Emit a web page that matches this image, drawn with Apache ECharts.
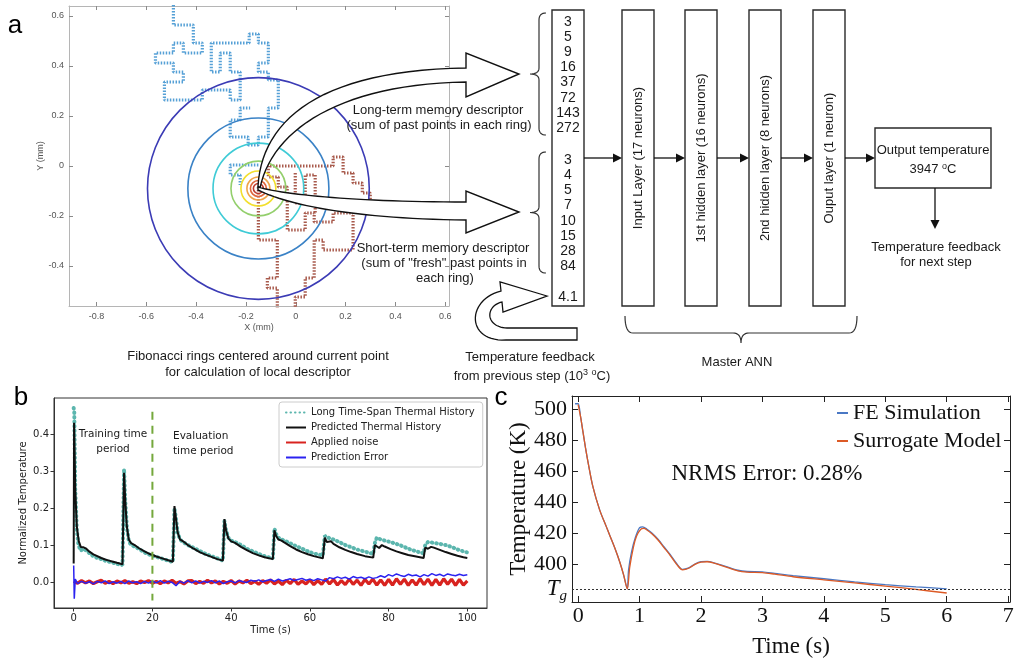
<!DOCTYPE html>
<html><head><meta charset="utf-8">
<script src="https://cdn.jsdelivr.net/npm/echarts@6/dist/echarts.min.js"></script>
<style>html,body{margin:0;padding:0;background:#fff}#c{width:1018px;height:659px}</style>
</head><body><div id="c"></div>
<script>
// ================= DATA =================
// Panel a: Fibonacci rings (mm)
const ringCenter = [-0.15, -0.09];
const ringRadii = [0.445, 0.283, 0.182, 0.11, 0.07, 0.046, 0.032, 0.02];
// Panel a: scan path, older points (mm)
const oldPath1 = [[-0.491,0.68],[-0.491,0.564],[-0.411,0.564],[-0.411,0.492],[-0.375,0.492],[-0.375,0.452],[-0.451,0.452],[-0.451,0.492],[-0.491,0.492],[-0.491,0.452],[-0.563,0.452],[-0.563,0.412],[-0.491,0.412],[-0.491,0.376],[-0.451,0.376],[-0.451,0.336],[-0.527,0.336],[-0.527,0.264],[-0.375,0.264],[-0.375,0.304],[-0.263,0.304],[-0.263,0.264],[-0.223,0.264],[-0.223,0.376],[-0.263,0.376],[-0.263,0.452],[-0.303,0.452],[-0.303,0.376],[-0.339,0.376],[-0.339,0.492],[-0.187,0.492],[-0.187,0.528],[-0.150,0.528],[-0.150,0.492],[-0.110,0.492],[-0.110,0.412],[-0.150,0.412],[-0.150,0.376],[-0.110,0.376],[-0.110,0.344],[-0.070,0.344],[-0.070,0.232],[-0.110,0.232],[-0.110,0.116],[-0.150,0.116],[-0.150,0.084],[-0.191,0.084],[-0.191,0.116],[-0.263,0.116],[-0.263,0.184],[-0.223,0.184],[-0.223,0.232],[-0.183,0.232]];
const oldPath2 = [[-0.150,0.004],[-0.263,0.004],[-0.263,-0.036],[-0.223,-0.036],[-0.223,-0.076]];
// Panel a: scan path, fresh points (mm)
const freshPath1 = [[-0.150,-0.084],[-0.150,-0.296],[-0.074,-0.296],[-0.074,-0.448],[-0.114,-0.448],[-0.114,-0.488],[-0.074,-0.488],[-0.074,-0.576],[-0.002,-0.576],[-0.002,-0.524],[0.038,-0.524],[0.038,-0.448],[0.074,-0.448],[0.074,-0.296],[0.110,-0.296],[0.110,-0.336],[0.230,-0.336],[0.230,-0.188],[0.150,-0.188],[0.150,-0.224],[0.074,-0.224],[0.074,-0.188],[0.038,-0.188],[0.038,-0.256],[-0.034,-0.256],[-0.034,-0.084],[-0.070,-0.084],[-0.070,-0.044],[-0.110,-0.044],[-0.110,0.0],[0.150,0.0],[0.150,0.036],[0.190,0.036],[0.190,-0.028],[0.230,-0.028],[0.230,-0.068],[0.267,-0.068],[0.267,-0.108],[0.299,-0.108],[0.299,-0.148],[0.267,-0.148]];
const freshPath2 = [[-0.002,-0.028],[-0.002,-0.148],[0.038,-0.148],[0.038,-0.036],[0.078,-0.036],[0.078,-0.188]];
const aXTicks = [-0.8,-0.6,-0.4,-0.2,0,0.2,0.4,0.6];
const aYTicks = [-0.4,-0.2,0,0.2,0.4,0.6];

// Panel a: descriptor diagram
const longTerm = [3,5,9,16,37,72,143,272];
const shortTerm = [3,4,5,7,10,15,28,84];
const feedbackValue = '4.1';
const layerNames = ['Input Layer (17 neurons)','1st hidden layer (16 neurons)','2nd hidden layer (8 neurons)','Ouput layer (1 neuron)'];
const outputTemp = 3947;

// Panel b: thermal history
const tealT = [0,0.15,0.4,0.8,1.2,1.8,2.5,3.2,4,5,6,7,8,9,10,11,12.4, 12.8,13.1,13.5,14,14.6,15.5,16.5,18,19.5,21,22.5,24,25.2, 25.6,26,26.4,27,27.8,29,30.5,32,33.5,35,36.5,37.9, 38.3,38.7,39.3,40,41,42.5,44,45.5,47,48.5,50.6, 51,51.4,52,52.8,53.5,55,56.5,58,59.5,61,63.3, 63.8,64.3,65,66,67.5,69,70.5,72,74,76.1, 76.5,77,78,79,80.5,82,83.5,85,87,88.9, 89.3,90,91.5,93,94.5,96,97.5,99,100];
const tealV = [0.47,0.46,0.25,0.14,0.1,0.085,0.09,0.085,0.078,0.07,0.065,0.062,0.058,0.055,0.052,0.049,0.046,
 0.305,0.22,0.15,0.11,0.1,0.096,0.09,0.08,0.073,0.068,0.063,0.058,0.054,
 0.2,0.17,0.135,0.115,0.108,0.1,0.092,0.084,0.076,0.07,0.064,0.058,
 0.165,0.14,0.12,0.112,0.108,0.1,0.09,0.083,0.076,0.07,0.064,
 0.145,0.13,0.12,0.115,0.112,0.105,0.097,0.09,0.083,0.077,0.072,
 0.125,0.12,0.118,0.115,0.108,0.1,0.094,0.088,0.082,0.076,
 0.105,0.12,0.115,0.112,0.108,0.103,0.097,0.09,0.083,0.077,
 0.1,0.108,0.106,0.103,0.1,0.095,0.088,0.083,0.08];
const predT = [0,0.1,0.4,0.8,1.3,1.8,2.5,3.2,4,5,6,7,8,9,10,11,12.4, 12.8,13.1,13.5,14,14.6,15.5,16.5,18,19.5,21,22.5,24,25.2, 25.6,26,26.4,27,27.8,29,30.5,32,33.5,35,36.5,37.9, 38.3,38.7,39.3,40,41,42.5,44,45.5,47,48.5,50.6, 51,51.4,52,52.8,53.5,55,56.5,58,59.5,61,63.3, 63.8,64.3,64.8,65.4,66,67.5,69,70.5,72,74,76.1, 76.5,77,77.6,78.3,79,80.5,82,83.5,85,87,88.9, 89.3,90,90.8,91.5,93,94.5,96,97.5,99,100];
const predV = [0.05,0.43,0.25,0.15,0.11,0.095,0.094,0.09,0.082,0.075,0.07,0.065,0.061,0.058,0.055,0.052,0.048,
 0.295,0.22,0.15,0.115,0.105,0.1,0.092,0.083,0.075,0.069,0.064,0.059,0.055,
 0.205,0.17,0.135,0.115,0.11,0.1,0.09,0.081,0.074,0.068,0.062,0.058,
 0.17,0.14,0.118,0.11,0.106,0.095,0.086,0.078,0.072,0.067,0.062,
 0.14,0.125,0.115,0.112,0.107,0.097,0.088,0.081,0.075,0.07,0.064,
 0.12,0.108,0.105,0.11,0.103,0.094,0.087,0.081,0.076,0.07,0.066,
 0.1,0.095,0.092,0.1,0.096,0.089,0.083,0.078,0.073,0.069,0.065,
 0.093,0.09,0.095,0.093,0.087,0.081,0.076,0.071,0.067,0.065];
// applied noise, one sample per second (t = 0..100)
const noiseV = [0.002,-0.003,0.004,-0.002,0.003,-0.004,0.001,0.005,-0.003,0.002,
 -0.004,0.003,-0.002,0.004,-0.003,0.001,-0.004,0.003,-0.001,0.004,
 -0.003,0.002,-0.004,0.003,-0.002,0.005,-0.003,0.001,-0.005,0.003,
 0.004,-0.004,0.002,-0.003,0.005,-0.002,0.003,-0.005,0.002,-0.003,
 0.004,-0.005,0.003,-0.002,0.005,-0.004,0.002,-0.006,0.004,-0.003,
 0.006,-0.005,0.003,-0.007,0.005,-0.004,0.007,-0.006,0.003,-0.005,
 0.006,-0.007,0.004,-0.006,0.008,-0.005,0.007,-0.008,0.004,-0.007,
 0.008,-0.006,0.005,-0.009,0.007,-0.005,0.008,-0.008,0.006,-0.009,
 0.007,-0.008,0.009,-0.006,0.008,-0.009,0.006,-0.008,0.009,-0.007,
 0.008,-0.009,0.007,-0.008,0.009,-0.006,0.008,-0.009,0.007,-0.008,0.003];
// prediction error: initial spike, then one sample per second (t = 1..100)
const errSpikeT = [0,0.15,0.4];
const errSpikeV = [0.045,-0.045,0.008];
const errV = [-0.004,0.002,-0.003,0.001,-0.005,0.002,-0.002,0.003,-0.004,0.001,
 -0.003,0.002,-0.004,0.003,-0.002,0.001,-0.004,0.002,-0.003,0.003,
 -0.002,0.004,-0.003,0.002,-0.001,-0.01,0.002,-0.003,0.004,-0.002,
 0.003,-0.003,0.002,-0.001,0.004,-0.002,0.003,-0.004,0.001,0.003,
 -0.002,0.004,0.001,-0.001,0.005,0.002,0.006,0.001,0.004,0.007,
 0.002,0.008,0.003,0.006,0.009,0.004,0.007,0.01,0.005,0.008,
 0.004,0.009,0.006,0.003,0.012,0.009,0.014,0.01,0.013,0.008,
 0.015,0.011,0.013,0.009,0.014,0.01,0.012,0.017,0.013,0.02,
 0.016,0.022,0.018,0.015,0.021,0.017,0.019,0.014,0.02,0.016,
 0.023,0.018,0.021,0.016,0.022,0.019,0.017,0.021,0.018,0.02];
const trainEnd = 20;
const splitLineRange = [-0.05, 0.46];
const bXTicks = [0,20,40,60,80,100];
const bYTicks = [0,0.1,0.2,0.3,0.4];

// Panel c: FE vs surrogate
const feT = [-0.05,0,0.04,0.08,0.12,0.16,0.24,0.35,0.46,0.52,0.6,0.68,0.74,0.8, 0.82,0.87,0.93,1.0,1.05,1.12,1.2,1.3,1.4,1.5,1.6,1.7,1.8,1.9,2.0,2.1,2.2,2.4,2.6,2.75,3.0,3.2,3.5,4,4.5,5,5.5,6];
const feV = [503.5,503.5,495,485,475,466,450,435,424,418,410,401,393,384, 396,408,417,423.5,424,422.5,420,416,411,406,400.5,396.5,397.5,400,401.5,401.7,401,398.5,396,395.2,395,394,392.5,390.5,388.5,386.7,385.3,384];
const srT = [0,0.04,0.08,0.12,0.16,0.24,0.35,0.46,0.52,0.6,0.68,0.74,0.8, 0.84,0.9,0.95,1.02,1.07,1.12,1.2,1.3,1.4,1.5,1.6,1.7,1.8,1.9,2.0,2.1,2.2,2.4,2.6,2.75,3.0,3.2,3.5,4,4.5,5,5.5,6];
const srV = [503,495,485,475,466,450,435,424,418,410,401,393,384, 398,411,418,422.5,423,422,419.5,415.5,410.5,405.5,400,396.3,397.3,399.8,401.3,401.5,400.8,398.2,395.6,394.8,394.5,393.5,391.8,389.8,387.8,385.8,383.6,381.3];
const Tg = 384;
const cXTicks = [0,1,2,3,4,5,6,7];
const cYTicks = [400,420,440,460,480,500];
const nrmsText = 'NRMS Error: 0.28%';

// ================= STYLE / LAYOUT =================
const SANS = '"Liberation Sans", Arial, sans-serif';
const SERIF = '"Liberation Serif", "Times New Roman", serif';
const MPL = '"DejaVu Sans", sans-serif';
const ringColors = ['#3b3bb5','#3a82c6','#3fcbd6','#93cf6c','#f2df2c','#f0a448','#e0663c','#bf3a2e'];

const zip = (a, b) => a.map((v, i) => [v, b[i]]);
const idx = (arr, start) => arr.map((v, i) => [start + i, v]);

function bez(p0,p1,p2,p3,n){ n=n||28; const pts=[]; for(let i=0;i<=n;i++){const t=i/n,u=1-t;
  pts.push([u*u*u*p0[0]+3*u*u*t*p1[0]+3*u*t*t*p2[0]+t*t*t*p3[0], u*u*u*p0[1]+3*u*u*t*p1[1]+3*u*t*t*p2[1]+t*t*t*p3[1]]);} return pts; }
function qd(p0,p1,p2,n){ n=n||8; const pts=[]; for(let i=0;i<=n;i++){const t=i/n,u=1-t;
  pts.push([u*u*p0[0]+2*u*t*p1[0]+t*t*p2[0], u*u*p0[1]+2*u*t*p1[1]+t*t*p2[1]]);} return pts; }

const G = [];
function txt(x,y,text,st,rot){ G.push({type:'text', x:x, y:y, rotation:rot||0, z:120,
  style:Object.assign({text:text, fontFamily:SANS, fontSize:13, fill:'#1a1a1a', align:'center', verticalAlign:'middle'}, st||{})}); }
function box(x,y,w,h){ G.push({type:'rect', z:105, shape:{x:x,y:y,width:w,height:h}, style:{fill:'#fff', stroke:'#2a2a2a', lineWidth:1.4}}); }
function arrowR(x1,x2,y){ G.push({type:'line', z:106, shape:{x1:x1,y1:y,x2:x2-7,y2:y}, style:{stroke:'#111', lineWidth:1.3}});
  G.push({type:'polygon', z:106, shape:{points:[[x2,y],[x2-9,y-4.5],[x2-9,y+4.5]]}, style:{fill:'#111'}}); }
function poly(points, fill, lw){ G.push({type:'polygon', z:100, shape:{points:points}, style:{fill:fill, stroke:'#111', lineWidth:lw||1.3}}); }
function pline(points){ G.push({type:'polyline', z:106, shape:{points:points}, style:{fill:null, stroke:'#333', lineWidth:1.2}}); }
function vbrace(x, y1, y2, tipX){ const ym=(y1+y2)/2;
  pline([].concat(qd([x+7,y1],[x,y1],[x,y1+7]), [[x,ym-6]], qd([x,ym-6],[x,ym],[tipX,ym]), qd([tipX,ym],[x,ym],[x,ym+6]), [[x,y2-7]], qd([x,y2-7],[x,y2],[x+7,y2]))); }

// hollow arrows from current point
poly([].concat(bez([258,186],[262,120],[320,70],[466,68]), [[466,53],[519,74],[466,97]], bez([260,188],[272,130],[340,84],[466,82]).reverse()), '#fff', 1.4);
poly([].concat(bez([258,187],[285,195],[360,202],[466,202]), [[466,191],[519,212],[466,233]], bez([258,190],[290,206],[360,219],[466,220]).reverse()), '#fff', 1.4);
// U-turn feedback arrow
poly([].concat([[547,296],[500,282],[501,291]], bez([501,291],[466,300],[466,342],[506,340]), [[577,340],[577,328],[507,328]], bez([507,328],[485,327],[485,306],[502,302]), [[503,312]]), '#fff', 1.3);

// descriptor texts
txt(438,110,'Long-term memory descriptor');
txt(439,125,'(sum of past points in each ring)');
txt(443,248,'Short-term memory descriptor');
txt(444,263,'(sum of "fresh" past points in');
txt(445,278,'each ring)');
// braces
vbrace(539,13,135,530);
vbrace(539,152,273,530);
// input vector box
box(552,10,32,296);
longTerm.forEach((v,i)=>txt(568,21.7+15.2*i,String(v),{fontSize:14}));
shortTerm.forEach((v,i)=>txt(568,160+15.2*i,String(v),{fontSize:14}));
txt(568,297,feedbackValue,{fontSize:14});
// layers
const layerX = [622,685,749,813];
layerNames.forEach((n,i)=>{ box(layerX[i],10,32,296); txt(layerX[i]+16,158,n,{fontSize:13},Math.PI/2); });
arrowR(584,622,158); arrowR(654,685,158); arrowR(717,749,158); arrowR(781,813,158); arrowR(845,875,158);
// output box
box(875,128,116,60);
txt(933,150,'Output temperature',{fontSize:13});
txt(933,169,outputTemp+' {s|o}C',{fontSize:13, rich:{s:{fontSize:9, verticalAlign:'top', lineHeight:14, fontFamily:SANS, fill:'#1a1a1a'}}});
G.push({type:'line', z:106, shape:{x1:935,y1:188,x2:935,y2:221}, style:{stroke:'#111', lineWidth:1.3}});
G.push({type:'polygon', z:106, shape:{points:[[935,229],[930.5,220],[939.5,220]]}, style:{fill:'#111'}});
txt(936,247,'Temperature feedback');
txt(936,262,'for next step');
// master ANN brace
pline([].concat(qd([625,316],[625,333],[633,333]), [[733,333]], qd([733,333],[741,333],[741,343]), qd([741,343],[741,333],[749,333]), [[849,333]], qd([849,333],[857,333],[857,316])));
txt(737,362,'Master ANN');
txt(530,357,'Temperature feedback');
txt(532,376,'from previous step (10{s|3} {s|o}C)',{rich:{s:{fontSize:9, verticalAlign:'top', lineHeight:15, fontFamily:SANS, fill:'#1a1a1a'}}});
txt(258,356,'Fibonacci rings centered around current point');
txt(258,372,'for calculation of local descriptor');
// panel letters
txt(15,26,'a',{fontSize:26, fill:'#000'});
txt(21,398,'b',{fontSize:26, fill:'#000'});
txt(501,398,'c',{fontSize:26, fill:'#000'});
// panel b annotations
txt(113,434,'Training time',{fontFamily:MPL, fontSize:10.5});
txt(113,449,'period',{fontFamily:MPL, fontSize:10.5});
txt(173,436,'Evaluation',{fontFamily:MPL, fontSize:10.5, align:'left'});
txt(173,451,'time period',{fontFamily:MPL, fontSize:10.5, align:'left'});
// panel c annotation
txt(767,474,nrmsText,{fontFamily:SERIF, fontSize:23, fill:'#111'});

// ================= CHART =================
const chart = echarts.init(document.getElementById('c'), null, {renderer:'canvas', width:1018, height:659});
const noLabel = {show:false};
const aLine = {show:true, onZero:false, lineStyle:{color:'#b5b5b5', width:1}};
const aTick = (vals)=>({show:true, inside:true, length:4, customValues:vals, lineStyle:{color:'#8a8a8a'}});
const cLine = {show:true, onZero:false, lineStyle:{color:'#222', width:1}};
const cTick = (vals)=>({show:true, inside:true, length:6, customValues:vals, lineStyle:{color:'#222'}});
const bLine = {show:true, onZero:false, lineStyle:{color:'#333', width:1}};

const walkStyle = (c)=>({color:c, width:3.2, type:[1.5,1.5]});

const option = {
  animation:false,
  backgroundColor:'#fff',
  grid:[
    {left:69, top:6, width:380, height:300, outerBoundsMode:'none'},
    {left:54, top:398, width:433, height:210, outerBoundsMode:'none', show:true, borderColor:'#333', borderWidth:1, backgroundColor:'transparent'},
    {left:572, top:396, width:438, height:206, outerBoundsMode:'none'}
  ],
  xAxis:[
    {gridIndex:0, type:'value', min:-0.91, max:0.615, axisLine:aLine, axisTick:aTick(aXTicks), splitLine:{show:false},
      axisLabel:{customValues:aXTicks, formatter:v=>v===0?'0':v.toFixed(1), color:'#555', fontSize:9, fontFamily:SANS, margin:6},
      name:'X (mm)', nameLocation:'middle', nameGap:17, nameTextStyle:{color:'#555', fontSize:9, fontFamily:SANS}},
    {gridIndex:0, type:'value', position:'top', min:-0.91, max:0.615, axisLine:aLine, axisTick:aTick(aXTicks), axisLabel:noLabel, splitLine:{show:false}},
    {gridIndex:1, type:'value', min:-5, max:105, axisLine:bLine, splitLine:{show:false},
      axisTick:{show:true, inside:false, length:3.5, customValues:bXTicks, lineStyle:{color:'#333'}},
      axisLabel:{customValues:bXTicks, color:'#222', fontSize:10, fontFamily:MPL, margin:5},
      name:'Time (s)', nameLocation:'middle', nameGap:17, nameTextStyle:{color:'#222', fontSize:10, fontFamily:MPL}},
    {gridIndex:2, type:'value', min:-0.1, max:7.03, axisLine:cLine, axisTick:cTick(cXTicks), splitLine:{show:false},
      axisLabel:{customValues:cXTicks, color:'#111', fontSize:22, fontFamily:SERIF, margin:3},
      name:'Time (s)', nameLocation:'middle', nameGap:33, nameTextStyle:{color:'#111', fontSize:23, fontFamily:SERIF}},
    {gridIndex:2, type:'value', position:'top', min:-0.1, max:7.03, axisLine:cLine, axisTick:cTick(cXTicks), axisLabel:noLabel, splitLine:{show:false}}
  ],
  yAxis:[
    {gridIndex:0, type:'value', min:-0.56, max:0.64, axisLine:aLine, axisTick:aTick(aYTicks), splitLine:{show:false},
      axisLabel:{customValues:aYTicks, formatter:v=>v===0?'0':v.toFixed(1), color:'#555', fontSize:9, fontFamily:SANS, margin:5},
      name:'Y (mm)', nameLocation:'middle', nameGap:18, nameRotate:90, nameTextStyle:{color:'#555', fontSize:9, fontFamily:SANS}},
    {gridIndex:0, type:'value', position:'right', min:-0.56, max:0.64, axisLine:aLine, axisTick:aTick(aYTicks), axisLabel:noLabel, splitLine:{show:false}},
    {gridIndex:1, type:'value', min:-0.07, max:0.497, axisLine:bLine, splitLine:{show:false},
      axisTick:{show:true, inside:false, length:3.5, customValues:bYTicks, lineStyle:{color:'#333'}},
      axisLabel:{customValues:bYTicks, formatter:v=>v.toFixed(1), color:'#222', fontSize:10, fontFamily:MPL, margin:5},
      name:'Normalized Temperature', nameLocation:'middle', nameGap:26, nameRotate:90, nameTextStyle:{color:'#222', fontSize:10, fontFamily:MPL}},
    {gridIndex:2, type:'value', min:375.5, max:508.5, axisLine:cLine, axisTick:cTick(cYTicks), splitLine:{show:false},
      axisLabel:{customValues:[Tg].concat(cYTicks), color:'#111', fontSize:22, fontFamily:SERIF, margin:5,
        formatter:v=>v===Tg?'{t|T}{g|g}':String(v),
        rich:{t:{fontSize:23, fontStyle:'italic', fontFamily:SERIF, color:'#111', lineHeight:30},
              g:{fontSize:15, fontStyle:'italic', fontFamily:SERIF, color:'#111', lineHeight:30, verticalAlign:'bottom'}}},
      name:'Temperature (K)', nameLocation:'middle', nameGap:40, nameRotate:90, nameTextStyle:{color:'#111', fontSize:23, fontFamily:SERIF}},
    {gridIndex:2, type:'value', position:'right', min:375.5, max:508.5, axisLine:cLine, axisTick:cTick(cYTicks), axisLabel:noLabel, splitLine:{show:false}}
  ],
  legend:[
    {left:279, top:402, orient:'vertical', padding:[5,8,4,6], itemGap:4, itemWidth:20, itemHeight:8,
      itemStyle:{opacity:0},
      backgroundColor:'#fff', borderColor:'#cccccc', borderWidth:1, borderRadius:3,
      textStyle:{fontFamily:MPL, fontSize:10, color:'#222', lineHeight:11},
      data:['Long Time-Span Thermal History','Predicted Thermal History','Applied noise','Prediction Error']},
    {left:836, top:400, orient:'vertical', padding:0, itemGap:2, itemWidth:11, itemHeight:8,
      itemStyle:{opacity:0},
      textStyle:{fontFamily:SERIF, fontSize:22, color:'#111', lineHeight:26},
      data:['FE Simulation','Surrogate Model']}
  ],
  graphic:{elements:G},
  series:[
    // ---- panel a ----
    {type:'line', name:'Past points', xAxisIndex:0, yAxisIndex:0, data:oldPath1, symbol:'none', lineStyle:walkStyle('#55a0d6'), z:2, silent:true},
    {type:'line', name:'Past points 2', xAxisIndex:0, yAxisIndex:0, data:oldPath2, symbol:'none', lineStyle:walkStyle('#55a0d6'), z:2, silent:true},
    {type:'line', name:'Fresh points', xAxisIndex:0, yAxisIndex:0, data:freshPath1, symbol:'none', lineStyle:walkStyle('#a85a4c'), z:2, silent:true},
    {type:'line', name:'Fresh points 2', xAxisIndex:0, yAxisIndex:0, data:freshPath2, symbol:'none', lineStyle:walkStyle('#a85a4c'), z:2, silent:true},
    {type:'custom', name:'Fibonacci rings', xAxisIndex:0, yAxisIndex:0, clip:true, z:3, silent:true,
      data:ringRadii.map(r=>[ringCenter[0], ringCenter[1], r]),
      renderItem:(params, api)=>{ const c = api.coord([api.value(0), api.value(1)]); const r = api.size([api.value(2), 0])[0];
        return {type:'circle', shape:{cx:c[0], cy:c[1], r:r}, style:{fill:'none', stroke:ringColors[params.dataIndex], lineWidth:1.6}}; }},
    // ---- panel b ----
    {type:'line', name:'Applied noise', xAxisIndex:2, yAxisIndex:2, data:idx(noiseV,0), symbol:'none', lineStyle:{color:'#d8231f', width:3.2}, itemStyle:{color:'#d8231f'}, z:3},
    {type:'line', name:'Prediction Error', xAxisIndex:2, yAxisIndex:2, data:zip(errSpikeT,errSpikeV).concat(idx(errV,1)), symbol:'none', lineStyle:{color:'#2b22f0', width:1.5}, itemStyle:{color:'#2b22f0'}, z:4},
    {type:'line', name:'Long Time-Span Thermal History', xAxisIndex:2, yAxisIndex:2, data:zip(tealT,tealV), symbol:'none', lineStyle:{color:'#5cb6ae', width:4, type:[0.5,4], cap:'round'}, itemStyle:{color:'#5cb6ae'}, z:5},
    {type:'line', name:'Predicted Thermal History', xAxisIndex:2, yAxisIndex:2, data:zip(predT,predV), symbol:'none', lineStyle:{color:'#111', width:2}, itemStyle:{color:'#111'}, z:6},
    {type:'line', name:'Train/eval split', xAxisIndex:2, yAxisIndex:2, data:[[trainEnd,splitLineRange[1]],[trainEnd,splitLineRange[0]]], symbol:'none', lineStyle:{color:'#74a83c', width:2, type:[8,6]}, z:7, silent:true},
    // ---- panel c ----
    {type:'line', name:'FE Simulation', xAxisIndex:3, yAxisIndex:3, data:zip(feT,feV), symbol:'none', smooth:0.3, lineStyle:{color:'#4a78c4', width:1.3}, itemStyle:{color:'#4a78c4'}, z:3,
      markLine:{silent:true, symbol:'none', label:{show:false}, lineStyle:{color:'#333', type:[2,2], width:1}, data:[{yAxis:Tg}]}},
    {type:'line', name:'Surrogate Model', xAxisIndex:3, yAxisIndex:3, data:zip(srT,srV), symbol:'none', smooth:0.3, lineStyle:{color:'#dc5a26', width:1.3}, itemStyle:{color:'#dc5a26'}, z:4}
  ]
};
chart.setOption(option);
</script>
</body></html>
